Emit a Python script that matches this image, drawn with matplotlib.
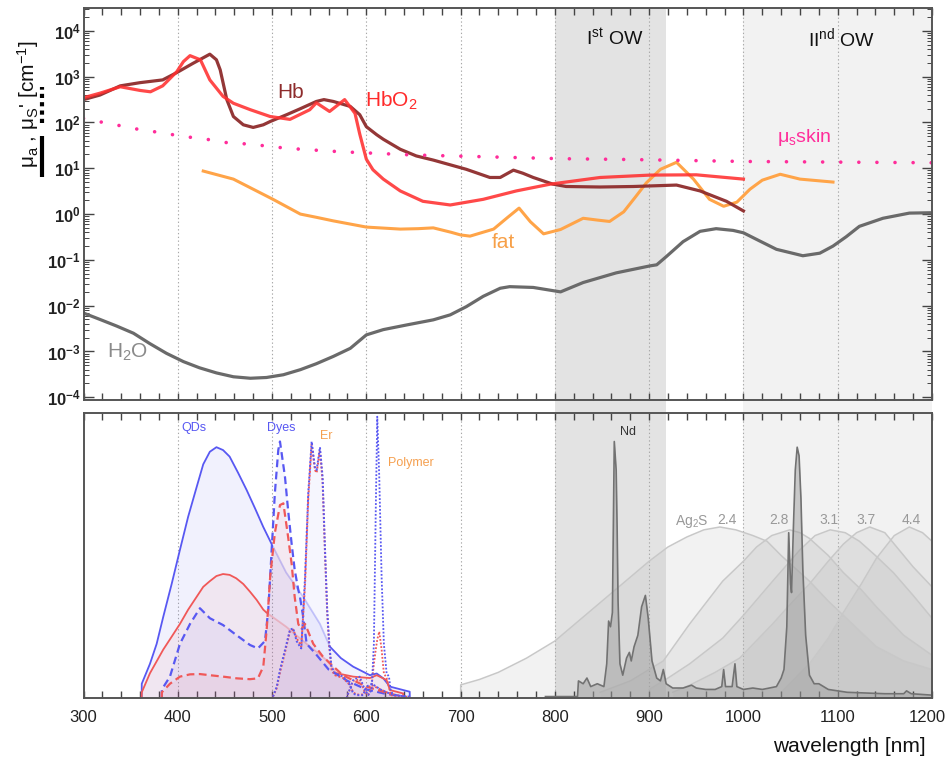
import matplotlib
matplotlib.use('Agg')
import matplotlib.pyplot as plt
from matplotlib.lines import Line2D
from matplotlib.patches import Rectangle
from matplotlib.transforms import ScaledTranslation
from matplotlib.ticker import MultipleLocator, LogLocator, NullFormatter

plt.rcParams['font.family'] = ['Liberation Sans', 'DejaVu Sans']
plt.rcParams['mathtext.fontset'] = 'custom'
plt.rcParams['mathtext.rm'] = 'Liberation Sans'
plt.rcParams['mathtext.it'] = 'Liberation Sans:italic'
plt.rcParams['mathtext.bf'] = 'Liberation Sans:bold'
plt.rcParams['mathtext.default'] = 'rm'

# ---------------- top panel data (absorption / scattering, cm^-1) ----------------
hb_wl = [300, 317.5, 339, 360, 384, 399, 416, 434, 441, 445, 452, 459, 469.5, 480, 490.7, 498,
         515.5, 530, 547, 555, 565, 583, 593, 600, 611, 618, 636, 653, 671, 706, 731, 742, 756,
         766, 777, 798, 812, 848, 883, 929, 954, 982, 1000]
hb_mu = [316, 398, 631, 741, 851, 1230, 1950, 3100, 2340, 1410, 316, 135, 89, 78, 89, 105,
         148, 200, 288, 316, 288, 224, 148, 81, 54, 43, 26, 18.6, 15.1, 9.5, 6.3, 6.3, 9.1,
         7.8, 6.3, 4.5, 4.0, 3.9, 4.0, 4.3, 3.2, 1.9, 1.17]

hbo2_wl = [300, 317.5, 339, 360, 371, 384, 399, 406, 413, 424, 434, 448, 459, 477, 498, 519, 540,
           547, 561, 577, 588, 593, 600, 607, 618, 636, 660, 689, 724, 759, 795, 848, 901, 950, 1000]
hbo2_mu = [347, 437, 603, 501, 468, 631, 1290, 2140, 2880, 2340, 851, 372, 263, 190, 135, 117, 190,
           269, 174, 316, 158, 56, 15.8, 9.3, 5.8, 3.2, 1.9, 1.58, 2.1, 3.2, 4.5, 6.3, 7.1, 7.2, 5.8]

fat_wl = [427, 459, 501, 530, 547, 565, 600, 636, 655, 671, 690, 700, 710, 735, 750, 762, 774, 788,
          806, 830, 845, 858, 873, 885, 897, 912, 929, 947, 964, 979, 993, 1007, 1020, 1039, 1060,
          1095]
fat_mu = [8.7, 5.8, 2.1, 1.0, 0.85, 0.71, 0.52, 0.47, 0.48, 0.50, 0.40, 0.35, 0.33, 0.47, 0.85,
          1.35, 0.68, 0.37, 0.46, 0.81, 0.74, 0.69, 1.12, 2.3, 4.8, 9.5, 13.5, 5.8, 2.1, 1.48,
          1.82, 3.5, 5.5, 7.4, 5.8, 5.0]

h2o_wl = [300, 317.5, 335, 353, 370, 388, 406, 423, 441, 459, 477, 494, 512, 530, 547, 565, 583,
          600, 618, 643, 671, 689, 706, 724, 742, 752, 777, 806, 830, 865, 901, 908, 918, 936,
          954, 971, 989, 1000, 1017, 1035, 1063, 1081, 1095, 1109, 1123, 1148, 1176, 1200]
h2o_mu = [6.9e-3, 5.0e-3, 3.6e-3, 2.5e-3, 1.5e-3, 9.1e-4, 6.0e-4, 4.4e-4, 3.4e-4, 2.8e-4, 2.6e-4,
          2.7e-4, 3.1e-4, 4.0e-4, 5.4e-4, 7.8e-4, 1.17e-3, 2.3e-3, 3.0e-3, 3.8e-3, 4.9e-3, 6.3e-3,
          9.5e-3, 1.6e-2, 2.4e-2, 2.6e-2, 2.5e-2, 2.0e-2, 3.2e-2, 5.2e-2, 7.4e-2, 7.8e-2, 0.117,
          0.25, 0.42, 0.48, 0.44, 0.39, 0.26, 0.17, 0.123, 0.14, 0.20, 0.32, 0.54, 0.81, 1.05, 1.07]

skin_wl = [300, 319, 339, 358, 377, 395, 415, 434, 453, 473, 492, 511, 531, 572, 650, 728, 806,
           883, 1000, 1200]
skin_mus = [123, 102, 85, 71, 62, 54, 47, 42, 36, 34, 31, 28, 26, 23, 19.5, 17.8, 16.2,
            15.5, 14.1, 13.2]

# ---------------- bottom panel data (normalised emission) ----------------
qd_b_wl = [361.7, 361.8, 370.5, 377.6, 384.6, 393.5, 402.3, 411, 420, 427, 434, 441, 448, 455, 464,
           473, 482, 490.7, 499.6]
qd_b = [0.0, 0.05, 0.12, 0.19, 0.285, 0.40, 0.52, 0.636, 0.74, 0.82, 0.864, 0.88, 0.87, 0.847,
        0.79, 0.73, 0.665, 0.60, 0.54]
qd_b_tail_wl = [499.6, 515, 533, 550.8, 561.4]
qd_b_tail = [0.54, 0.44, 0.355, 0.26, 0.18]
qd_b_end_wl = [561.4, 573, 586, 603.8, 611, 618, 625, 646, 646.1]
qd_b_end = [0.18, 0.14, 0.11, 0.08, 0.086, 0.069, 0.04, 0.022, 0.0]

qd_r_wl = [361.7, 361.8, 370.5, 384.6, 393.5, 402.3, 411, 420, 427, 434, 441, 448, 455, 462, 469.5,
           476.6, 483.7, 490.7, 494]
qd_r = [0.0, 0.02, 0.087, 0.17, 0.215, 0.26, 0.31, 0.355, 0.39, 0.41, 0.428, 0.435, 0.432, 0.42,
        0.40, 0.373, 0.344, 0.31, 0.30]
qd_r_tail_wl = [494, 515, 533, 557.9, 568.5]
qd_r_tail = [0.30, 0.25, 0.20, 0.133, 0.087]
qd_r_end_wl = [568.5, 586, 603.8, 611, 621.5, 625, 639, 639.1]
qd_r_end = [0.087, 0.075, 0.07, 0.08, 0.063, 0.028, 0.016, 0.0]

dye_b_wl = [383, 383.1, 391.7, 402.3, 413, 423.5, 434, 448, 462.5, 476.6, 485, 492.5, 496, 499.6,
            503, 506.6, 508.4, 513.7, 517, 520.8, 524, 527.8, 529.6, 533, 536.7, 545, 560, 580, 600,
            620, 640]
dye_b = [0.0, 0.03, 0.075, 0.19, 0.26, 0.315, 0.28, 0.256, 0.22, 0.186, 0.174, 0.20, 0.31, 0.52,
         0.72, 0.87, 0.90, 0.776, 0.66, 0.54, 0.45, 0.38, 0.355, 0.285, 0.19, 0.16, 0.10, 0.06, 0.03,
         0.015, 0.005]

dye_r_wl = [383, 383.1, 391.7, 402.3, 413, 423.5, 434, 448, 462.5, 476.6, 485, 490.7, 494.3, 498,
            503, 508.4, 512, 517, 520.8, 524, 527.8, 531, 535, 543.7, 554, 575, 600, 630]
dye_r = [0.0, 0.02, 0.05, 0.075, 0.083, 0.084, 0.08, 0.075, 0.069, 0.066, 0.069, 0.11, 0.24, 0.425,
         0.58, 0.677, 0.683, 0.566, 0.47, 0.355, 0.26, 0.24, 0.26, 0.19, 0.145, 0.08, 0.04, 0.01]

er_wl = [501, 505, 508.4, 513.7, 519, 522.5, 526, 529.6, 531, 535, 538.4, 542, 545.5, 547.3, 550.8,
         553.6, 556, 558.5, 560.7, 563, 566.7, 575.5, 582.6, 586, 589.7, 596.7, 600, 606, 615, 625, 640]
er_b = [0.005, 0.04, 0.098, 0.168, 0.24, 0.244, 0.20, 0.18, 0.174, 0.425, 0.72, 0.90, 0.81, 0.80,
        0.88, 0.776, 0.54, 0.31, 0.19, 0.11, 0.087, 0.075, 0.046, 0.016, 0.01, 0.01, 0.04, 0.05,
        0.03, 0.015, 0.005]
er_r = [0.005, 0.035, 0.09, 0.16, 0.235, 0.24, 0.21, 0.19, 0.18, 0.40, 0.70, 0.89, 0.80, 0.79,
        0.87, 0.76, 0.52, 0.30, 0.18, 0.10, 0.08, 0.07, 0.045, 0.02, 0.012, 0.012, 0.035, 0.045,
        0.03, 0.015, 0.005]

poly_wl = [579, 586, 593, 598.5, 602, 605.6, 608, 610, 611.6, 613.7, 616.2, 618.6, 621.5, 624,
           625.8, 628.5, 646]
poly_b = [0.0, 0.063, 0.075, 0.028, 0.01, 0.028, 0.19, 0.66, 0.987, 0.776, 0.425, 0.19, 0.087, 0.075,
          0.028, 0.01, 0.005]
poly_r = [0.0, 0.06, 0.065, 0.02, 0.01, 0.04, 0.12, 0.17, 0.205, 0.233, 0.17, 0.087, 0.07, 0.04,
          0.01, 0.008, 0.004]

nd_wl = [790, 824, 825, 830, 834, 838, 845, 852, 855, 857, 859, 861, 863, 865, 866, 867, 869, 872,
         876, 879, 881, 884, 888, 892, 896, 899, 903, 908, 912, 915, 918, 925, 936, 945, 950, 960,
         970, 977, 979, 981, 988, 991, 993, 1000, 1010, 1020, 1035, 1040, 1043, 1046, 1048, 1050,
         1051, 1053, 1055, 1057, 1059, 1061, 1063, 1066, 1070, 1075, 1080, 1090, 1110, 1150, 1170,
         1173, 1178, 1200]
nd_em = [0.005, 0.005, 0.06, 0.05, 0.07, 0.04, 0.05, 0.04, 0.12, 0.27, 0.25, 0.30, 0.90, 0.80, 0.60,
         0.34, 0.12, 0.08, 0.14, 0.16, 0.13, 0.18, 0.22, 0.32, 0.36, 0.28, 0.13, 0.07, 0.06, 0.10,
         0.05, 0.035, 0.035, 0.045, 0.035, 0.03, 0.03, 0.04, 0.10, 0.04, 0.04, 0.12, 0.04, 0.03,
         0.035, 0.03, 0.04, 0.07, 0.10, 0.25, 0.58, 0.40, 0.37, 0.60, 0.80, 0.88, 0.85, 0.70, 0.45,
         0.22, 0.08, 0.05, 0.05, 0.03, 0.02, 0.015, 0.015, 0.025, 0.015, 0.01]

ag_24_wl = [700, 700.1, 720, 740, 770, 800, 825, 850, 875, 900, 920, 940, 958, 975, 992, 1010, 1025,
            1040, 1060, 1070, 1090, 1106, 1125, 1141, 1170, 1200]
ag_24 = [0.0, 0.046, 0.065, 0.09, 0.14, 0.20, 0.27, 0.34, 0.41, 0.48, 0.53, 0.565, 0.59, 0.60, 0.59,
         0.57, 0.55, 0.50, 0.44, 0.41, 0.34, 0.29, 0.23, 0.18, 0.13, 0.10]
ag_28_wl = [848, 880, 915, 943, 978, 1000, 1014, 1030, 1049, 1060, 1070, 1090, 1106, 1125, 1141,
            1170, 1200]
ag_28 = [0.02, 0.06, 0.13, 0.26, 0.41, 0.48, 0.53, 0.57, 0.59, 0.58, 0.56, 0.50, 0.44, 0.38, 0.32,
         0.22, 0.15]
ag_31_wl = [900, 920, 943, 978, 1000, 1031, 1060, 1076, 1092, 1108, 1123, 1140, 1159, 1180, 1200]
ag_31 = [0.03, 0.07, 0.12, 0.21, 0.29, 0.41, 0.52, 0.57, 0.59, 0.58, 0.55, 0.50, 0.44, 0.36, 0.28]
ag_37_wl = [925, 943, 970, 996, 1031, 1050, 1070, 1090, 1106, 1120, 1134, 1150, 1165, 1180, 1200]
ag_37 = [0.02, 0.045, 0.09, 0.14, 0.26, 0.33, 0.40, 0.48, 0.54, 0.58, 0.60, 0.58, 0.52, 0.46, 0.39]
ag_44_wl = [1040, 1070, 1090, 1106, 1125, 1141, 1160, 1176, 1190, 1200]
ag_44 = [0.02, 0.12, 0.21, 0.30, 0.40, 0.49, 0.57, 0.60, 0.58, 0.55]
ag_labels = ['2.4', '2.8', '3.1', '3.7', '4.4']

ow1 = (800, 918)
ow2 = (1000, 1200)

# ---------------- figure ----------------
W, H = 948, 763
fig = plt.figure(figsize=(W / 100, H / 100), dpi=100)


def fx(px):
    return px / W


def fy(py):
    return 1 - py / H


L, R = 83.5, 932
ax1 = fig.add_axes([fx(L), fy(400), fx(R) - fx(L), fy(8) - fy(400)])
ax2 = fig.add_axes([fx(L), fy(698), fx(R) - fx(L), fy(413) - fy(698)])

c_ow1 = '#e3e3e3'
c_ow2 = '#f2f2f2'
for ax in (ax1, ax2):
    ax.set_xlim(300, 1200)
    ax.axvspan(*ow1, color=c_ow1, zorder=0, lw=0)
    ax.axvspan(*ow2, color=c_ow2, zorder=0, lw=0)
    for g in range(400, 1200, 100):
        ax.axvline(g, color='#a8a8a8', lw=0.8, ls=(0, (1.2, 2.2)), zorder=0.5)
    for s in ax.spines.values():
        s.set_color('#555555')
        s.set_linewidth(1.4)
        s.set_zorder(10)
    ax.set_xticks(list(range(300, 1201, 100)))
    ax.xaxis.set_minor_locator(MultipleLocator(20))
    ax.tick_params(axis='x', which='both', direction='in', top=True, bottom=True,
                   length=5, width=1.0, color='#444444')


def xfig(nm):
    return fx(L) + (nm - 300) / 900 * (fx(R) - fx(L))


for (a, b), c in ((ow1, c_ow1), (ow2, c_ow2)):
    fig.add_artist(Rectangle((xfig(a), fy(413)), xfig(b) - xfig(a), fy(400) - fy(413),
                             transform=fig.transFigure, color=c, lw=0, zorder=0))

# ---------- top panel ----------
ax1.set_yscale('log')
ax1.set_ylim(10 ** -4.06, 10 ** 4.50)
ax1.yaxis.set_major_locator(LogLocator(base=10, numticks=20))
ax1.yaxis.set_minor_locator(LogLocator(base=10, subs=range(2, 10), numticks=200))
ax1.yaxis.set_minor_formatter(NullFormatter())
ax1.tick_params(axis='y', which='major', direction='in', left=True, right=True, length=7,
                width=1.0, labelsize=12, pad=2, color='#444444')
ax1.tick_params(axis='y', which='minor', direction='in', left=True, right=True, length=3.5,
                width=0.7, color='#444444')
ax1.tick_params(axis='x', labelbottom=False)
for t in ax1.get_yticklabels():
    t.set_fontweight('bold')
    t.set_color('#222222')

ax1.plot(h2o_wl, h2o_mu, color='#6a6a6a', lw=2.3, zorder=3)
ax1.plot(fat_wl, fat_mu, color='#ffa448', lw=2.2, zorder=3)
ax1.plot(hb_wl, hb_mu, color='#8e2c2c', lw=2.3, zorder=4, alpha=0.95)
ax1.plot(hbo2_wl, hbo2_mu, color='#ff3030', lw=2.3, zorder=4, alpha=0.88)
ax1.plot(skin_wl, skin_mus, color='#ff2d9a', lw=2.6, ls=(0, (0.01, 5.0)),
         dash_capstyle='round', zorder=5)

fig.text(fx(277), fy(92), 'Hb', color='#8e2c2c', fontsize=15, ha='left', va='center')
fig.text(fx(365), fy(101), 'HbO$_2$', color='#ff2a2a', fontsize=15, ha='left', va='center')
fig.text(fx(503), fy(242), 'fat', color='#f7a048', fontsize=15, ha='center', va='center')
fig.text(fx(107), fy(352), 'H$_2$O', color='#8a8a8a', fontsize=15, ha='left', va='center')
fig.text(fx(777), fy(137), r'$\mu_s$skin', color='#ff2d9a', fontsize=14, ha='left', va='center')
fig.text(fx(615), fy(38), 'I$^{st}$ OW', color='#111111', fontsize=14, ha='center', va='center')
fig.text(fx(842), fy(38), 'II$^{nd}$ OW', color='#111111', fontsize=14, ha='center', va='center')

# y label with line-style keys
fig.text(fx(28), fy(104), r"$\mu_a$ , $\mu_S$' [cm$^{-1}$]", rotation=90, fontsize=15,
         ha='center', va='center', color='#111111')
fig.add_artist(Line2D([fx(42), fx(42)], [fy(177), fy(136)], transform=fig.transFigure,
                      color='black', lw=3.0, solid_capstyle='butt'))
fig.add_artist(Line2D([fx(42), fx(42)], [fy(123), fy(87)], transform=fig.transFigure,
                      color='black', lw=3.0, ls=(0, (1, 1))))

# ---------- bottom panel ----------
ax2.set_ylim(0, 1)
ax2.set_yticks([])
ax2.tick_params(axis='x', which='major', labelsize=12, pad=9)
for t in ax2.get_xticklabels():
    t.set_color('#222222')
last = ax2.xaxis.get_major_ticks()[-1].label1
last.set_transform(last.get_transform() + ScaledTranslation(-5 / 100, 0, fig.dpi_scale_trans))

# Ag2S quantum dots
for wl, v in ((ag_24_wl, ag_24), (ag_28_wl, ag_28), (ag_31_wl, ag_31), (ag_37_wl, ag_37),
              (ag_44_wl, ag_44)):
    ax2.fill_between(wl, 0, v, color='#b0b0b0', alpha=0.16, lw=0, zorder=1)
    ax2.plot(wl, v, color='#c8c8c8', lw=1.1, zorder=1.5)

# Nd
ax2.fill_between(nd_wl, 0, nd_em, color='#a0a0a0', alpha=0.5, lw=0, zorder=2)
ax2.plot(nd_wl, nd_em, color='#727272', lw=1.2, zorder=2.5)

blue = '#5858f2'
red = '#f05858'
ax2.fill_between(qd_b_wl + qd_b_tail_wl[1:] + qd_b_end_wl[1:], 0,
                 qd_b + qd_b_tail[1:] + qd_b_end[1:], color=blue, alpha=0.08, lw=0, zorder=2)
ax2.fill_between(qd_r_wl + qd_r_tail_wl[1:] + qd_r_end_wl[1:], 0,
                 qd_r + qd_r_tail[1:] + qd_r_end[1:], color=red, alpha=0.07, lw=0, zorder=2)
ax2.plot(qd_b_wl, qd_b, color=blue, lw=1.3, zorder=3)
ax2.plot(qd_b_tail_wl, qd_b_tail, color=blue, lw=1.3, alpha=0.3, zorder=3)
ax2.plot(qd_b_end_wl, qd_b_end, color=blue, lw=1.3, zorder=3)
ax2.plot(qd_r_wl, qd_r, color=red, lw=1.3, zorder=3)
ax2.plot(qd_r_tail_wl, qd_r_tail, color=red, lw=1.3, alpha=0.3, zorder=3)
ax2.plot(qd_r_end_wl, qd_r_end, color=red, lw=1.3, zorder=3)

ax2.fill_between(dye_b_wl, 0, dye_b, color=blue, alpha=0.06, lw=0, zorder=3.2)
ax2.fill_between(dye_r_wl, 0, dye_r, color=red, alpha=0.07, lw=0, zorder=3.2)
ax2.fill_between(er_wl, 0, er_b, color=blue, alpha=0.05, lw=0, zorder=3.2)
ax2.plot(dye_b_wl, dye_b, color=blue, lw=1.6, ls=(0, (3.5, 2.0)), zorder=4)
ax2.plot(dye_r_wl, dye_r, color=red, lw=1.6, ls=(0, (3.5, 2.0)), zorder=4)
ax2.plot(er_wl, er_r, color=red, lw=1.4, ls=(0, (1, 1)), zorder=4)
ax2.plot(er_wl, er_b, color=blue, lw=1.4, ls=(0, (1, 1)), zorder=4.1)
ax2.plot(poly_wl, poly_r, color=red, lw=1.3, ls=(0, (1, 1)), zorder=4)
ax2.plot(poly_wl, poly_b, color=blue, lw=1.3, ls=(0, (1, 1)), zorder=4.1)

fig.text(fx(194), fy(428), 'QDs', color=blue, fontsize=9, ha='center', va='center')
fig.text(fx(281), fy(428), 'Dyes', color=blue, fontsize=9, ha='center', va='center')
fig.text(fx(326), fy(436), 'Er', color='#f5a050', fontsize=9, ha='center', va='center')
fig.text(fx(411), fy(463), 'Polymer', color='#f5a050', fontsize=9, ha='center', va='center')
fig.text(fx(628), fy(432), 'Nd', color='#333333', fontsize=9, ha='center', va='center')
fig.text(fx(692), fy(521), 'Ag$_2$S', color='#999999', fontsize=10, ha='center', va='center')
for xp, lab in zip((727, 779, 829, 866, 911), ag_labels):
    fig.text(fx(xp), fy(520), lab, color='#999999', fontsize=10, ha='center', va='center')

fig.text(fx(849), fy(746), 'wavelength [nm]', fontsize=15, ha='center', va='center',
         color='#111111')

fig.savefig('out.png', dpi=100)
